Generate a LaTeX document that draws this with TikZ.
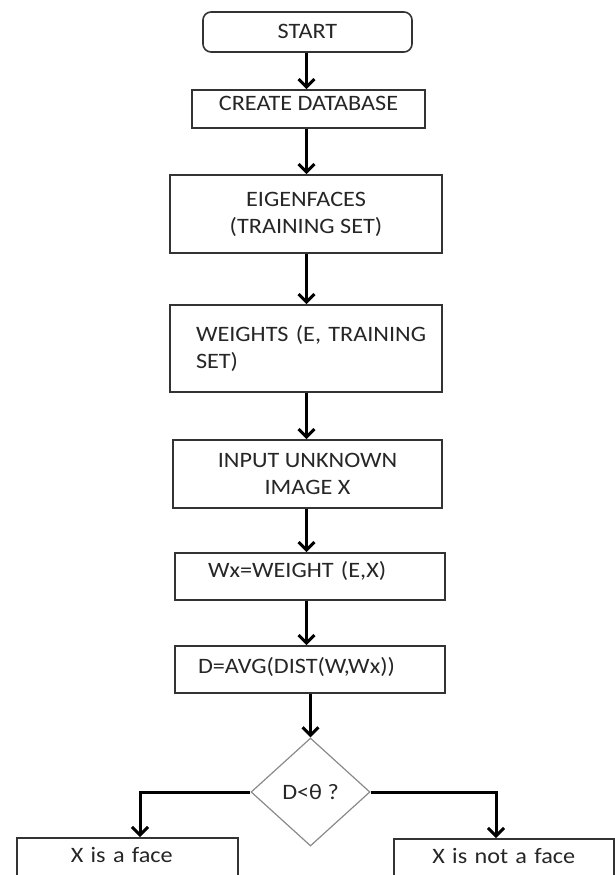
\documentclass[tikz,border=0pt]{standalone}
\usepackage{fontspec}
\setmainfont{Carlito}[FakeStretch=1.1]
\usetikzlibrary{arrows.meta,shapes.geometric}
\definecolor{boxline}{HTML}{333333}
\definecolor{txt}{HTML}{262626}
\definecolor{dialine}{HTML}{8A8A8A}
\begin{document}
\begin{tikzpicture}[x=1pt,y=-1pt,
  box/.style={draw=boxline, line width=1.6pt, rectangle, inner sep=0pt,
    font=\fontsize{22}{27}\selectfont, text=txt, align=center},
  arr/.style={draw=black, line width=3pt,
    -{Straight Barb[length=8pt,width=16pt]}},
]
\useasboundingbox (0,0) rectangle (615,875);
\fill[white] (0,0) rectangle (615,875);

\node[box, rounded corners=8pt, minimum width=209pt, text height=26pt, text depth=14pt] (start) at (307.5,32) {START};
\node[box, minimum width=233pt, text height=20pt, text depth=18pt] (db) at (308.5,109) {CREATE DATABASE};
\node[box, minimum width=272pt, minimum height=78pt] (eig) at (306,214) {EIGENFACES\\(TRAINING SET)};
\node[box, minimum width=272pt, minimum height=87pt, text width=272pt, align=left] (wts) at (306,348.5) {\hspace*{26pt}WEIGHTS (E, TRAINING\\\hspace*{26pt}SET)};
\node[box, minimum width=269pt, minimum height=68pt] (inp) at (307.5,474) {INPUT UNKNOWN\\IMAGE X};
\node[box, minimum width=270pt, text width=270pt, align=left, text height=24pt, text depth=23pt] (wx) at (310,576.5) {\hspace*{33pt}Wx=WEIGHT (E,X)};
\node[box, minimum width=270pt, text width=270pt, align=left, text height=27pt, text depth=20pt] (avg) at (310,669.5) {\hspace*{23pt}D=AVG(DIST(W,Wx))};
\node[draw=dialine, line width=1.2pt, diamond, inner sep=0pt, minimum width=119pt, minimum height=108pt,
  font=\fontsize{22}{27}\selectfont, text=txt] (dec) at (310.5,792) {D<θ ?};
\node[box, anchor=north west, minimum width=221pt, text width=221pt, align=left, text height=25pt, text depth=40pt] (face) at (16,837) {\hspace*{54pt}X is a face};
\node[box, anchor=north west, minimum width=220pt, text width=220pt, align=center, text height=25pt, text depth=40pt] (noface) at (393,838) {X is not a face};

\coordinate (col) at (306.5,0);
\draw[arr] (start.south -| col) -- (db.north -| col);
\draw[arr] (db.south -| col) -- (eig.north -| col);
\draw[arr] (eig.south -| col) -- (wts.north -| col);
\draw[arr] (wts.south -| col) -- (inp.north -| col);
\draw[arr] (inp.south -| col) -- (wx.north -| col);
\draw[arr] (wx.south -| col) -- (avg.north -| col);
\draw[arr] (avg.south -| dec.north) -- (dec.north);
\coordinate (fl) at (140,837);
\coordinate (fr) at (496,838);
\draw[arr] (dec.west) -| (fl);
\draw[arr] (dec.east) -| (fr);
\end{tikzpicture}
\end{document}
